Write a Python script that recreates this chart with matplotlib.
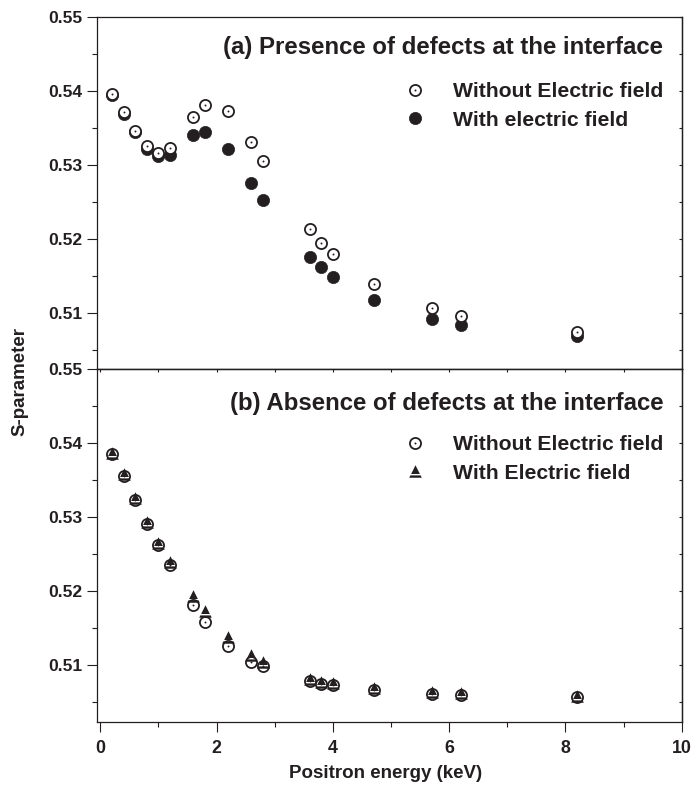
import matplotlib
matplotlib.use("Agg")
import matplotlib.pyplot as plt
from matplotlib.path import Path
from matplotlib.legend_handler import HandlerTuple
from matplotlib.ticker import MultipleLocator, FormatStrFormatter, NullFormatter

INK = "#231f20"
plt.rcParams["font.family"] = ["Liberation Sans", "DejaVu Sans"]
plt.rcParams["font.weight"] = "bold"

# positron implantation energies (keV)
energy = [0.2, 0.4, 0.6, 0.8, 1.0, 1.2, 1.6, 1.8, 2.2, 2.6, 2.8,
          3.6, 3.8, 4.0, 4.7, 5.7, 6.2, 8.2]

# (a) presence of defects at the interface
s_a_without = [0.5396, 0.5371, 0.5346, 0.5326, 0.5316, 0.5323, 0.5365, 0.5381,
               0.5373, 0.5331, 0.5305, 0.5213, 0.5195, 0.5180, 0.5139, 0.5106,
               0.5096, 0.5074]
s_a_with = [0.5395, 0.5369, 0.5344, 0.5322, 0.5312, 0.5314, 0.5341, 0.5345,
            0.5322, 0.5276, 0.5252, 0.5176, 0.5162, 0.5149, 0.5117, 0.5092,
            0.5084, 0.5069]

# (b) absence of defects at the interface
s_b_without = [0.5385, 0.5355, 0.5323, 0.5291, 0.5262, 0.5236, 0.5182, 0.5159,
               0.5126, 0.5105, 0.5099, 0.5079, 0.5075, 0.5074, 0.5067, 0.5062,
               0.5060, 0.5057]
s_b_with = [0.5387, 0.5358, 0.5326, 0.5294, 0.5265, 0.5239, 0.5194, 0.5173,
            0.5139, 0.5114, 0.5105, 0.5082, 0.5078, 0.5076, 0.5069, 0.5064,
            0.5063, 0.5059]

Y_LIM = (0.5024, 0.55)
X_LIM = (-0.057, 10)

# black triangle with a white band near its base (Origin-style symbol)
TRI_BAND = Path(
    [(0, 1), (-0.7, -0.4), (0.7, -0.4), (0, 1),
     (-0.825, -0.62), (0.825, -0.62), (1, -1), (-1, -1), (-0.825, -0.62)],
    [Path.MOVETO, Path.LINETO, Path.LINETO, Path.CLOSEPOLY,
     Path.MOVETO, Path.LINETO, Path.LINETO, Path.LINETO, Path.CLOSEPOLY],
)

TUPLE_HANDLER = {tuple: HandlerTuple(ndivide=1, pad=0)}


def open_dot_circles(ax, x, y, z=3):
    ring, = ax.plot(x, y, ls="none", marker="o", ms=8.0, mfc="white",
                    mec=INK, mew=1.3, zorder=z)
    dot, = ax.plot(x, y, ls="none", marker="o", ms=1.4, mfc=INK,
                   mec="none", zorder=z + 0.1)
    return (ring, dot)


def style_axes(ax, bottom_labels):
    ax.set_xlim(*X_LIM)
    ax.set_ylim(*Y_LIM)
    for sp in ax.spines.values():
        sp.set_linewidth(0.9)
        sp.set_color(INK)
    ax.yaxis.set_major_locator(MultipleLocator(0.01))
    ax.yaxis.set_minor_locator(MultipleLocator(0.005))
    ax.yaxis.set_major_formatter(FormatStrFormatter("%.2f"))
    ax.tick_params(axis="y", which="major", direction="out", length=7.2,
                   width=0.8, pad=3.6, labelsize=12.6, colors=INK, right=False)
    ax.tick_params(axis="y", which="minor", direction="out", length=3.6,
                   width=0.8, right=False, colors=INK)
    right = ax.secondary_yaxis("right")
    right.yaxis.set_major_locator(MultipleLocator(0.01))
    right.yaxis.set_minor_locator(MultipleLocator(0.005))
    right.yaxis.set_major_formatter(NullFormatter())
    right.tick_params(which="both", direction="in", length=2.5, width=0.8,
                      colors=INK)
    right.spines["right"].set_linewidth(0.9)
    if bottom_labels:
        ax.xaxis.set_major_locator(MultipleLocator(2))
        ax.xaxis.set_minor_locator(MultipleLocator(1))
        ax.xaxis.set_major_formatter(FormatStrFormatter("%d"))
        ax.tick_params(axis="x", which="major", direction="out", length=7.2,
                       width=0.8, pad=6.0, labelsize=12.8, colors=INK, top=False)
        ax.tick_params(axis="x", which="minor", direction="out", length=3.6,
                       width=0.8, top=False, colors=INK)
        top = ax.secondary_xaxis("top")
        top.xaxis.set_major_locator(MultipleLocator(2))
        top.xaxis.set_minor_locator(MultipleLocator(1))
        top.xaxis.set_major_formatter(NullFormatter())
        top.tick_params(which="both", direction="in", length=2.5, width=0.8,
                        colors=INK)
        top.spines["top"].set_linewidth(0.9)
    else:
        ax.tick_params(axis="x", which="both", bottom=False, top=False,
                       labelbottom=False)


def add_legend(ax, handles, labels, y_top):
    ax.legend(handles, labels, handler_map=TUPLE_HANDLER,
              loc="upper right", bbox_to_anchor=(0.9685, y_top), frameon=False,
              borderpad=0, borderaxespad=0, handlelength=1.0, handletextpad=1.3,
              labelspacing=0.45, fontsize=15.2, labelcolor=INK)


fig = plt.figure(figsize=(6.94, 7.85), dpi=100)
ax_a = fig.add_axes([0.1398, 0.5299, 0.8425, 0.4484])
ax_b = fig.add_axes([0.1398, 0.0806, 0.8425, 0.4493])

# ---- panel (a)
filled, = ax_a.plot(energy, s_a_with, ls="none", marker="o", ms=8.8,
                    mfc=INK, mec=INK, mew=0.5, zorder=2)
open_a = open_dot_circles(ax_a, energy, s_a_without)
style_axes(ax_a, bottom_labels=False)
ax_a.text(0.9685, 0.8963, "(a) Presence of defects at the interface",
          transform=ax_a.transAxes, ha="right", va="baseline",
          fontsize=17.3, color=INK)
add_legend(ax_a, [open_a, filled],
           ["Without Electric field", "With electric field"], 0.815)

# ---- panel (b)
open_b = open_dot_circles(ax_b, energy, s_b_without)
tri, = ax_b.plot(energy, s_b_with, ls="none", marker=TRI_BAND, ms=9.0,
                 mfc=INK, mec="none", zorder=5)
style_axes(ax_b, bottom_labels=True)
ax_b.text(0.9685, 0.8838, "(b) Absence of defects at the interface",
          transform=ax_b.transAxes, ha="right", va="baseline",
          fontsize=17.3, color=INK)
add_legend(ax_b, [open_b, tri],
           ["Without Electric field", "With Electric field"], 0.812)

fig.text(0.556, 1 - 778 / 785, "Positron energy (keV)", ha="center",
         va="baseline", fontsize=13.5, color=INK)
fig.text(0.029, 0.5146, "S-parameter", rotation=90, ha="center", va="center",
         fontsize=13.5, color=INK)

fig.savefig("out.png", dpi=100, facecolor="white")
